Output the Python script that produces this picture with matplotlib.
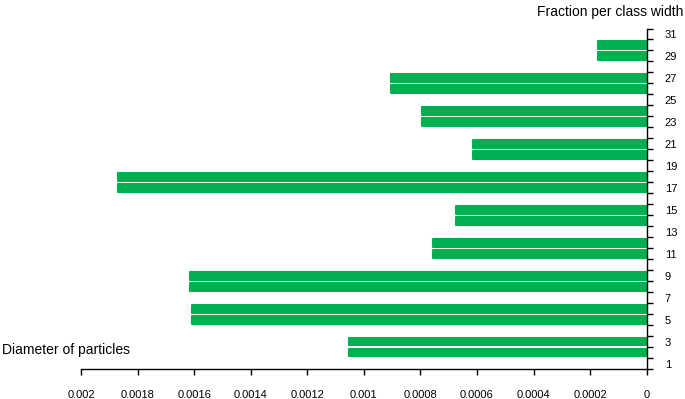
import matplotlib
matplotlib.use("Agg")
import matplotlib.pyplot as plt
from matplotlib.ticker import FixedLocator

# particle diameter classes (category index) and fraction per class width
classes = [2, 3, 5, 6, 8, 9, 11, 12, 14, 15, 17, 18, 20, 21, 23, 24, 26, 27, 29, 30]
fractions = [0.001054, 0.001054, 0.001608, 0.001608, 0.001615, 0.001615,
             0.000754, 0.000754, 0.000675, 0.000675, 0.001869, 0.001869,
             0.000615, 0.000615, 0.000793, 0.000793, 0.000905, 0.000905,
             0.000172, 0.000172]

ylabels = [str(i) for i in range(1, 32, 2)]
xticks = [0.002, 0.0018, 0.0016, 0.0014, 0.0012, 0.001, 0.0008, 0.0006, 0.0004, 0.0002, 0]
xlabels = ["0.002", "0.0018", "0.0016", "0.0014", "0.0012", "0.001",
           "0.0008", "0.0006", "0.0004", "0.0002", "0"]

plt.rcParams['font.family'] = ['Liberation Sans', 'DejaVu Sans']

fig = plt.figure(figsize=(6.85, 3.99), dpi=100)
W, H = 685, 399
ax = fig.add_axes([81 / W, (H - 369) / H, (646.7 - 81) / W, (369 - 28.5) / H])

green = "#00b050"
ax.barh(classes, fractions, height=0.72, color=green, edgecolor=green,
        linewidth=1.5, joinstyle="round")

ax.set_xlim(0.002, 0)
ax.set_ylim(0.5, 31.5)

for s in ["left", "top"]:
    ax.spines[s].set_visible(False)
ax.spines["right"].set_linewidth(1.0)
ax.spines["bottom"].set_linewidth(1.0)

ax.yaxis.tick_right()
ax.set_yticks(range(1, 32, 2))
ax.set_yticklabels(ylabels)
ax.yaxis.set_minor_locator(FixedLocator([i + 0.5 for i in range(0, 32)]))
ax.tick_params(axis="y", which="major", length=0, pad=13, labelsize=8)
ax.tick_params(axis="y", which="minor", length=4, direction="out", width=1)

ax.set_xticks(xticks)
ax.set_xticklabels(xlabels)
ax.tick_params(axis="x", which="major", length=4, direction="out", width=1,
               labelsize=8, pad=11)

fig.text(683 / W, 1 - 12 / H, "Fraction per class width", ha="right", va="center", fontsize=10)
fig.text(2 / W, 1 - 350 / H, "Diameter of particles", ha="left", va="center", fontsize=10)

fig.savefig("out.png", dpi=100)
